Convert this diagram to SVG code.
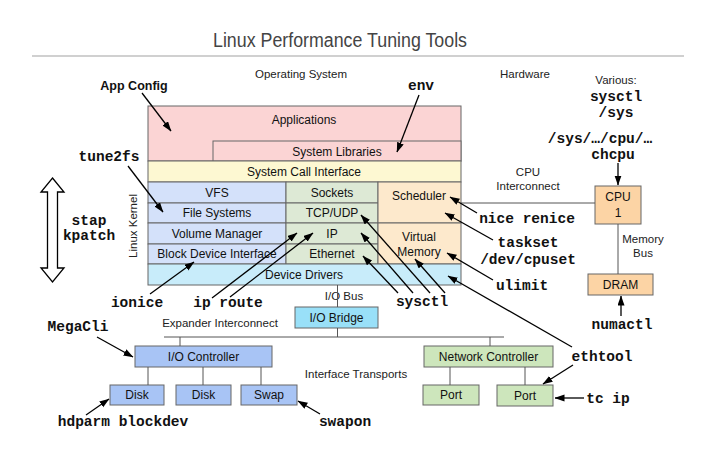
<svg xmlns="http://www.w3.org/2000/svg" width="713" height="452" viewBox="0 0 713 452">
<defs>
<marker id="ah" markerUnits="userSpaceOnUse" markerWidth="10" markerHeight="8" refX="9.5" refY="3.5" orient="auto">
<path d="M0,0 L10,3.5 L0,7 z" fill="#000"/>
</marker>
<style>
.bx{stroke:#666;stroke-width:1}
.t{font-family:"Liberation Sans",Arial,sans-serif;font-size:12px;fill:#111;text-anchor:middle}
.l{font-family:"Liberation Sans",Arial,sans-serif;font-size:11.5px;fill:#222;text-anchor:middle}
.m{font-family:"Liberation Mono","Courier New",monospace;font-size:14.5px;font-weight:bold;fill:#111;text-anchor:middle}
.b{font-family:"Liberation Sans",Arial,sans-serif;font-size:12.5px;font-weight:bold;fill:#111;text-anchor:middle}
.c{stroke:#555;stroke-width:1;fill:none}
.a{stroke:#000;stroke-width:1.3;fill:none;marker-end:url(#ah)}
</style>
</defs>
<rect width="713" height="452" fill="#fff"/>
<text x="340" y="47" font-family="'Liberation Sans',Arial,sans-serif" font-size="19.5" fill="#444" text-anchor="middle" textLength="254" lengthAdjust="spacingAndGlyphs">Linux Performance Tuning Tools</text>
<line x1="32" y1="56" x2="684" y2="56" stroke="#c0c0c0" stroke-width="1.5"/>

<text class="l" x="301" y="78">Operating System</text>
<text class="l" x="525" y="78">Hardware</text>
<text class="l" x="616" y="84">Various:</text>
<text class="l" x="528" y="176">CPU</text>
<text class="l" x="528" y="190">Interconnect</text>
<text class="l" x="643" y="243">Memory</text>
<text class="l" x="643" y="257">Bus</text>
<text class="l" x="344" y="300" text-anchor="start">I/O Bus</text>
<text class="l" x="220" y="327">Expander Interconnect</text>
<text class="l" x="356" y="378">Interface Transports</text>
<text class="l" x="137" y="226" transform="rotate(-90 137 226)">Linux Kernel</text>

<g id="kernel-stack">
<g id="applications"><rect class="bx" x="148" y="106" width="313" height="55" fill="#fbd4d4"/><text class="t" x="304" y="124">Applications</text></g>
<g id="system-libraries"><rect class="bx" x="213" y="141" width="248" height="20" fill="#fbd4d4"/><text class="t" x="337" y="156">System Libraries</text></g>
<g id="syscall"><rect class="bx" x="148" y="161" width="313" height="21" fill="#fdf8d2"/><text class="t" x="304" y="176">System Call Interface</text></g>
<g id="vfs"><rect class="bx" x="148" y="182" width="138" height="21" fill="#d4e1fa"/><text class="t" x="217" y="197">VFS</text></g>
<g id="filesystems"><rect class="bx" x="148" y="203" width="138" height="20" fill="#d4e1fa"/><text class="t" x="217" y="217">File Systems</text></g>
<g id="volume-manager"><rect class="bx" x="148" y="223" width="138" height="21" fill="#d4e1fa"/><text class="t" x="217" y="238">Volume Manager</text></g>
<g id="block-device"><rect class="bx" x="148" y="244" width="138" height="20" fill="#d4e1fa"/><text class="t" x="217" y="258">Block Device Interface</text></g>
<g id="sockets"><rect class="bx" x="286" y="182" width="92" height="21" fill="#dde9d5"/><text class="t" x="332" y="197">Sockets</text></g>
<g id="tcpudp"><rect class="bx" x="286" y="203" width="92" height="20" fill="#dde9d5"/><text class="t" x="332" y="217">TCP/UDP</text></g>
<g id="ip"><rect class="bx" x="286" y="223" width="92" height="21" fill="#dde9d5"/><text class="t" x="332" y="238">IP</text></g>
<g id="ethernet"><rect class="bx" x="286" y="244" width="92" height="20" fill="#dde9d5"/><text class="t" x="332" y="258">Ethernet</text></g>
<g id="scheduler"><rect class="bx" x="378" y="182" width="83" height="41" fill="#fde9cc"/><text class="t" x="419" y="200">Scheduler</text></g>
<g id="virtual-memory"><rect class="bx" x="378" y="223" width="83" height="41" fill="#fde9cc"/><text class="t" x="419" y="241">Virtual</text><text class="t" x="419" y="256">Memory</text></g>
<g id="device-drivers"><rect class="bx" x="148" y="264" width="313" height="21" fill="#c8ecfa"/><text class="t" x="304" y="279">Device Drivers</text></g>
</g>

<g id="cpu"><rect class="bx" x="595" y="186" width="46" height="38" fill="#fcd4a5"/><text class="t" x="618" y="201">CPU</text><text class="t" x="618" y="217">1</text></g>
<g id="dram"><rect class="bx" x="588" y="274" width="65" height="21" fill="#fcd4a5"/><text class="t" x="620.5" y="289">DRAM</text></g>
<g id="io-bridge"><rect class="bx" x="295" y="307" width="83" height="21" fill="#99e0f8"/><text class="t" x="336.5" y="322">I/O Bridge</text></g>
<g id="io-controller"><rect class="bx" x="135" y="346" width="137" height="21" fill="#a8c4f5"/><text class="t" x="203.5" y="361">I/O Controller</text></g>
<g id="network-controller"><rect class="bx" x="424" y="346" width="129" height="21" fill="#cde6bc"/><text class="t" x="488.5" y="361">Network Controller</text></g>
<g id="disk1"><rect class="bx" x="110" y="385" width="54" height="20" fill="#a8c4f5"/><text class="t" x="137" y="399">Disk</text></g>
<g id="disk2"><rect class="bx" x="176" y="385" width="55" height="20" fill="#a8c4f5"/><text class="t" x="203.5" y="399">Disk</text></g>
<g id="swap"><rect class="bx" x="241" y="385" width="56" height="20" fill="#a8c4f5"/><text class="t" x="269" y="399">Swap</text></g>
<g id="port1"><rect class="bx" x="423" y="385" width="56" height="20" fill="#cde6bc"/><text class="t" x="451" y="399">Port</text></g>
<g id="port2"><rect class="bx" x="497" y="385" width="56" height="21" fill="#cde6bc"/><text class="t" x="525" y="400">Port</text></g>

<g id="stap-arrow"><polygon points="52.5,178 64,192 57.5,192 57.5,268 64,268 52.5,282 41,268 47.5,268 47.5,192 41,192" fill="#fff" stroke="#000" stroke-width="1.3"/></g>

<g id="tool-labels">
<text class="b" x="134" y="90">App Config</text>
<text class="m" x="421" y="90">env</text>
<text class="m" x="109" y="161">tune2fs</text>
<text class="m" x="89" y="225">stap</text>
<text class="m" x="89" y="240">kpatch</text>
<text class="m" x="137" y="307">ionice</text>
<text class="m" x="228" y="307">ip route</text>
<text class="m" x="422" y="306">sysctl</text>
<text class="m" x="527" y="223">nice renice</text>
<text class="m" x="528" y="247">taskset</text>
<text class="m" x="528" y="264">/dev/cpuset</text>
<text class="m" x="522" y="290">ulimit</text>
<text class="m" x="616" y="101">sysctl</text>
<text class="m" x="616" y="117">/sys</text>
<text class="m" x="600" y="143">/sys/…/cpu/…</text>
<text class="m" x="613" y="159">chcpu</text>
<text class="m" x="622" y="329">numactl</text>
<text class="m" x="602" y="361">ethtool</text>
<text class="m" x="608" y="403">tc ip</text>
<text class="m" x="78" y="331">MegaCli</text>
<text class="m" x="123" y="426">hdparm blockdev</text>
<text class="m" x="345" y="426">swapon</text>
</g>

<g id="connectors">
<line class="c" x1="461" y1="203" x2="595" y2="203"/>
<line class="c" x1="618" y1="224" x2="618" y2="274"/>
<line class="c" x1="337.5" y1="285" x2="337.5" y2="307"/>
<line class="c" x1="337.5" y1="328" x2="337.5" y2="337"/>
<line class="c" x1="164" y1="337" x2="504" y2="337"/>
<line class="c" x1="180" y1="337" x2="180" y2="346"/>
<line class="c" x1="490" y1="337" x2="490" y2="346"/>
<line class="c" x1="148" y1="367" x2="148" y2="385"/>
<line class="c" x1="203" y1="367" x2="203" y2="385"/>
<line class="c" x1="261" y1="367" x2="261" y2="385"/>
<line class="c" x1="450" y1="367" x2="450" y2="385"/>
<line class="c" x1="525" y1="367" x2="525" y2="385"/>

<line class="a" x1="618" y1="163" x2="618" y2="185"/>
<line class="a" x1="621" y1="316" x2="621" y2="296"/>
<line class="a" x1="142" y1="93" x2="171" y2="131"/>
<line class="a" x1="419" y1="95" x2="397" y2="152"/>
<line class="a" x1="128" y1="166" x2="163" y2="212"/>
<line class="a" x1="150" y1="294" x2="194" y2="262"/>
<line class="a" x1="212" y1="298" x2="297" y2="233"/>
<line class="a" x1="230" y1="297" x2="313" y2="233"/>
<line class="a" x1="398" y1="293" x2="363" y2="256"/>
<line class="a" x1="413" y1="293" x2="361" y2="233"/>
<line class="a" x1="430" y1="293" x2="361" y2="215"/>
<line class="a" x1="445" y1="293" x2="415" y2="259"/>
<line class="a" x1="477" y1="213" x2="450" y2="197"/>
<line class="a" x1="493" y1="240" x2="445" y2="213"/>
<line class="a" x1="493" y1="280" x2="447" y2="253"/>
<line class="a" x1="572" y1="347" x2="448" y2="276"/>
<line class="a" x1="573" y1="365" x2="543" y2="384"/>
<line class="a" x1="584" y1="398" x2="555" y2="398"/>
<line class="a" x1="97" y1="337" x2="133" y2="357"/>
<line class="a" x1="86" y1="415" x2="109" y2="399"/>
<line class="a" x1="320" y1="414" x2="298" y2="401"/>
</g>
</svg>
